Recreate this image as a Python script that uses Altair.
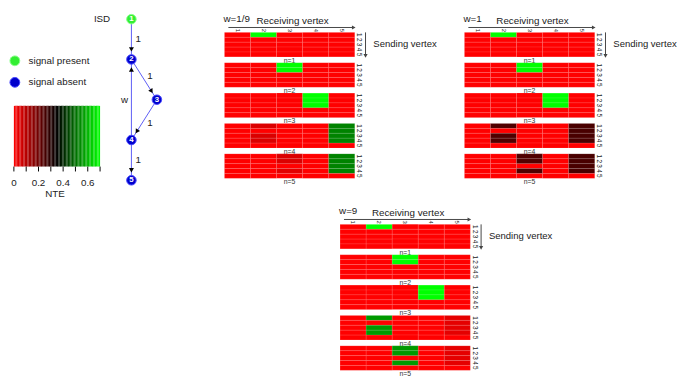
import math
import altair as alt
import numpy as np
import pandas as pd

FONT = "Liberation Sans"

# ---------------- data ----------------
vertices = [1, 2, 3, 4, 5]
steps = [1, 2, 3, 4, 5]
group_titles = ["w=1/9", "w=1", "w=9"]

# Non-zero NTE entries: (n, sending vertex, receiving vertex, NTE); all other cells are 0
nte_w_1_9 = [
    (1, 1, 2, 0.70),
    (2, 1, 3, 0.70), (2, 2, 3, 0.70),
    (3, 1, 4, 0.70), (3, 2, 4, 0.70), (3, 3, 4, 0.70),
    (4, 1, 2, 0.05), (4, 3, 2, 0.05), (4, 4, 2, 0.05),
    (4, 1, 5, 0.53), (4, 2, 5, 0.53), (4, 3, 5, 0.53), (4, 4, 5, 0.53),
    (5, 1, 3, 0.05), (5, 2, 3, 0.05), (5, 4, 3, 0.04),
    (5, 1, 5, 0.53), (5, 2, 5, 0.53), (5, 3, 5, 0.53), (5, 4, 5, 0.53),
]
nte_w_1 = [
    (1, 1, 2, 0.70),
    (2, 1, 3, 0.70), (2, 2, 3, 0.70),
    (3, 1, 4, 0.70), (3, 2, 4, 0.70), (3, 3, 4, 0.70),
    (4, 1, 2, 0.24), (4, 3, 2, 0.24), (4, 4, 2, 0.24),
    (4, 1, 5, 0.25), (4, 2, 5, 0.25), (4, 3, 5, 0.25), (4, 4, 5, 0.25),
    (5, 1, 3, 0.24), (5, 2, 3, 0.24), (5, 4, 3, 0.24),
    (5, 1, 5, 0.25), (5, 2, 5, 0.25), (5, 3, 5, 0.25), (5, 4, 5, 0.25),
]
nte_w_9 = [
    (1, 1, 2, 0.70),
    (2, 1, 3, 0.70), (2, 2, 3, 0.70),
    (3, 1, 4, 0.70), (3, 2, 4, 0.70), (3, 3, 4, 0.70),
    (4, 1, 2, 0.56), (4, 3, 2, 0.56), (4, 4, 2, 0.56),
    (4, 1, 5, 0.035), (4, 2, 5, 0.035), (4, 3, 5, 0.035), (4, 4, 5, 0.035),
    (5, 1, 3, 0.56), (5, 2, 3, 0.56), (5, 4, 3, 0.56),
    (5, 1, 5, 0.035), (5, 2, 5, 0.035), (5, 3, 5, 0.035), (5, 4, 5, 0.035),
]

cmap_domain = [0, 0.35, 0.7]
cmap_range = ["#ff0000", "#000000", "#00ff00"]
nte_ticks = [0, 0.1, 0.2, 0.3, 0.4, 0.5, 0.6, 0.7]
nte_tick_labels = [0, 0.2, 0.4, 0.6]

legend_signal = ["present", "absent"]
legend_labels = ["signal present", "signal absent"]
signal_fill = ["#33ee33", "#0000cc"]
signal_stroke = ["#88ff88", "#4848ff"]

node_ids = [1, 2, 3, 4, 5]
node_col = [0, 0, 1, 0, 0]
node_level = [0, 1, 2, 3, 4]
node_signal = ["present", "absent", "absent", "absent", "absent"]
edge_from = [1, 2, 3, 4, 4]
edge_to = [2, 3, 4, 2, 5]
edge_weight = ["1", "1", "1", "w", "1"]

# ---------------- helpers ----------------
CSCALE = alt.Scale(domain=cmap_domain, range=cmap_range, interpolate="rgb", clamp=True)
PW, PH = 133, 25
TXT = "#222222"


def grid(entries):
    vals = {(n, s, r): v for n, s, r, v in entries}
    rows = []
    for n in steps:
        for s in vertices:
            for r in vertices:
                rows.append({"n": n, "sending": s, "receiving": r,
                             "nte": vals.get((n, s, r), 0.0)})
    return pd.DataFrame(rows)


def one(text):
    return alt.Chart(pd.DataFrame({"t": [text]}))


def panel(df, n, title, first):
    d = df[df.n == n]
    xaxis = (alt.Axis(orient="top", labelAngle=90, labelAlign="right", labelBaseline="middle",
                      labelFontSize=6, labelPadding=1, labelColor=TXT, labelFont=FONT,
                      ticks=False, domain=False, title=None) if first else None)
    rect = alt.Chart(d).mark_rect(stroke="white", strokeOpacity=0.15, strokeWidth=0.6).encode(
        x=alt.X("receiving:O", scale=alt.Scale(domain=vertices, paddingInner=0, paddingOuter=0), axis=xaxis),
        y=alt.Y("sending:O", scale=alt.Scale(domain=vertices, paddingInner=0, paddingOuter=0),
                axis=alt.Axis(orient="right", labelAngle=90, labelAlign="center", labelBaseline="bottom",
                              labelFontSize=6.5, labelPadding=1, labelColor=TXT, labelFont=FONT,
                              ticks=False, domain=False, title=None)),
        color=alt.Color("nte:Q", scale=CSCALE, legend=None),
    )
    lab = one(f"n={n}").mark_text(font=FONT, fontSize=7, color="#333333").encode(
        text="t:N", x=alt.value(PW / 2), y=alt.value(PH + 4))
    layers = [rect, lab]
    if first:
        layers += [
            one(title).mark_text(font=FONT, fontSize=10, align="left", color=TXT).encode(
                text="t:N", x=alt.value(-1), y=alt.value(-14)),
            one("Receiving vertex").mark_text(font=FONT, fontSize=10, color=TXT).encode(
                text="t:N", x=alt.value(PW / 2 + 3), y=alt.value(-11.5)),
            one("a").mark_rule(color="#444444", strokeWidth=1).encode(
                x=alt.value(4), x2=alt.value(PW - 2), y=alt.value(-5)),
            one("a").mark_point(shape="triangle-right", filled=True, size=18, color="#444444", opacity=1).encode(
                x=alt.value(PW - 1), y=alt.value(-5)),
            one("a").mark_rule(color="#444444", strokeWidth=1).encode(
                x=alt.value(PW + 11), y=alt.value(0), y2=alt.value(PH - 2)),
            one("a").mark_point(shape="triangle-down", filled=True, size=18, color="#444444", opacity=1).encode(
                x=alt.value(PW + 11), y=alt.value(PH - 1)),
            one("Sending vertex").mark_text(font=FONT, fontSize=9.7, align="left", color=TXT).encode(
                text="t:N", x=alt.value(PW + 19), y=alt.value(12)),
        ]
    return alt.layer(*layers).properties(width=PW, height=PH)


df1, df2, df3 = grid(nte_w_1_9), grid(nte_w_1), grid(nte_w_9)

top_panels = []
for n in steps:
    top_panels.append(panel(df1, n, group_titles[0], n == 1))
    top_panels.append(panel(df2, n, group_titles[1], n == 1))
top = alt.concat(*top_panels, columns=2, spacing={"row": 6, "column": 112}, bounds="flush")

g3 = alt.vconcat(*[panel(df3, n, group_titles[2], n == 1) for n in steps], spacing=6, bounds="flush")
spacer = alt.Chart(pd.DataFrame({"a": [0]})).mark_point(opacity=0).encode(
    x=alt.value(0), y=alt.value(0)).properties(width=117, height=10)
bottom = alt.hconcat(spacer, g3, spacing=0)
right = alt.vconcat(top, bottom, spacing=21)

# ---------------- left panel: legend, colour bar, graph ----------------
# (coordinates relative to the top edge of the first heatmap row)
LY = alt.Scale(domain=legend_signal, range=[29, 51], padding=0)
FILL = alt.Scale(domain=legend_signal, range=signal_fill)
STROKE = alt.Scale(domain=legend_signal, range=signal_stroke)
leg_df = pd.DataFrame({"signal": legend_signal, "label": legend_labels})
leg_pts = alt.Chart(leg_df).mark_circle(size=100, opacity=1, strokeWidth=1).encode(
    x=alt.value(5),
    y=alt.Y("signal:N", scale=LY, axis=None),
    fill=alt.Fill("signal:N", scale=FILL, legend=None),
    stroke=alt.Stroke("signal:N", scale=STROKE, legend=None),
)
leg_txt = alt.Chart(leg_df).mark_text(align="left", font=FONT, fontSize=10, color=TXT).encode(
    x=alt.value(19), y=alt.Y("signal:N", scale=LY, axis=None), text="label:N")

nb = 64
edges_cb = np.linspace(0, 0.7, nb + 1)
cb = pd.DataFrame({"v0": edges_cb[:-1], "v1": edges_cb[1:], "v": (edges_cb[:-1] + edges_cb[1:]) / 2})
XS = alt.Scale(domain=[0, 0.7], range=[4, 92])
cbar = alt.Chart(cb).mark_rect().encode(
    x=alt.X("v0:Q", scale=XS, axis=None), x2="v1:Q",
    y=alt.value(75), y2=alt.value(137),
    color=alt.Color("v:Q", scale=CSCALE, legend=None))
cticks = alt.Chart(pd.DataFrame({"t": nte_ticks})).mark_rule(color="black", strokeWidth=1).encode(
    x=alt.X("t:Q", scale=XS, axis=None), y=alt.value(137), y2=alt.value(142))
clabels = alt.Chart(pd.DataFrame({"t": nte_tick_labels})).mark_text(font=FONT, fontSize=10, color=TXT).encode(
    x=alt.X("t:Q", scale=XS, axis=None), y=alt.value(154), text=alt.Text("t:Q", format=".1~f"))
nte_title = one("NTE").mark_text(font=FONT, fontSize=10, color=TXT).encode(
    text="t:N", x=alt.value(46), y=alt.value(165))
isd = one("ISD").mark_text(font=FONT, fontSize=10, color=TXT).encode(
    text="t:N", x=alt.value(94), y=alt.value(-14))

# graph layout scales (layout units -> pixels)
GX0, GX1 = 124, 150
GY0, GY1 = -13.5, 151
GX = alt.Scale(domain=[0, 1], range=[GX0, GX1])
GY = alt.Scale(domain=[0, 4], range=[GY0, GY1])
kx = GX1 - GX0
ky = (GY1 - GY0) / 4

nodes = pd.DataFrame({"id": node_ids, "gx": node_col, "gy": node_level, "signal": node_signal})
pos = {i: (c, l) for i, c, l in zip(node_ids, node_col, node_level)}
erows = []
for a, b, wgt in zip(edge_from, edge_to, edge_weight):
    (x1, y1), (x2, y2) = pos[a], pos[b]
    dxp, dyp = (x2 - x1) * kx, (y2 - y1) * ky
    L = math.hypot(dxp, dyp)
    ux, uy = dxp / L, dyp / L
    head = 11.0
    off = 7.0
    erows.append({
        "x1": x1, "y1": y1, "x2": x2, "y2": y2,
        "ax": x2 - ux * head / kx, "ay": y2 - uy * head / ky,
        "ang": (math.degrees(math.atan2(dxp, -dyp)) + 360) % 360,
        "lx": (x1 + x2) / 2 + uy * off / kx, "ly": (y1 + y2) / 2 - ux * off / ky,
        "w": wgt,
    })
edf = pd.DataFrame(erows)

edge_lines = alt.Chart(edf).mark_rule(color="#5b5bf5", strokeWidth=1).encode(
    x=alt.X("x1:Q", scale=GX, axis=None), y=alt.Y("y1:Q", scale=GY, axis=None), x2="x2:Q", y2="y2:Q")
heads = alt.Chart(edf).mark_point(shape="triangle", filled=True, size=26, color="black", opacity=1).encode(
    x=alt.X("ax:Q", scale=GX, axis=None), y=alt.Y("ay:Q", scale=GY, axis=None),
    angle=alt.Angle("ang:Q", scale=None))
node_pts = alt.Chart(nodes).mark_circle(size=95, opacity=1, strokeWidth=1).encode(
    x=alt.X("gx:Q", scale=GX, axis=None), y=alt.Y("gy:Q", scale=GY, axis=None),
    fill=alt.Fill("signal:N", scale=FILL, legend=None),
    stroke=alt.Stroke("signal:N", scale=STROKE, legend=None))
node_txt = alt.Chart(nodes).mark_text(font=FONT, fontSize=8, fontWeight="bold", color="white").encode(
    x=alt.X("gx:Q", scale=GX, axis=None), y=alt.Y("gy:Q", scale=GY, axis=None), text="id:N")
edge_txt = alt.Chart(edf).mark_text(font=FONT, fontSize=10, color=TXT).encode(
    x=alt.X("lx:Q", scale=GX, axis=None), y=alt.Y("ly:Q", scale=GY, axis=None), text="w:N")

left = alt.layer(
    leg_pts, leg_txt, cbar, cticks, clabels, nte_title, isd,
    edge_lines, heads, node_pts, node_txt, edge_txt,
).resolve_scale(x="independent", y="independent").properties(width=160, height=170)

chart = (
    alt.hconcat(left, right, spacing=56)
    .properties(padding={"left": 0, "top": 0, "right": 0, "bottom": 0})
    .configure(font=FONT, background="white", padding={"left": 0, "top": 0, "right": 0, "bottom": 0})
    .configure_view(stroke="transparent", strokeWidth=0)
)

chart.save("out.html", embed_options={"renderer": "svg", "actions": False})
